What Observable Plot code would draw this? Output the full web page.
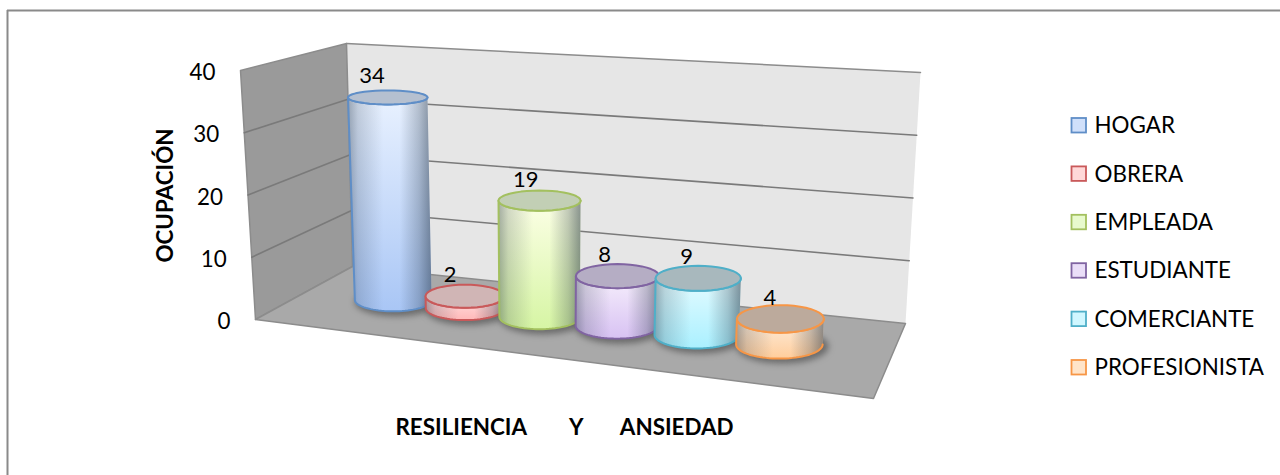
<!DOCTYPE html>
<html><head><meta charset="utf-8">
<script src="https://cdn.jsdelivr.net/npm/d3@7"></script>
<script src="https://cdn.jsdelivr.net/npm/@observablehq/plot@0.6"></script>
<style>html,body{margin:0;padding:0;background:#fff}svg{display:block}</style>
</head><body><div id="chart"></div>
<script>
const categories = ["HOGAR","OBRERA","EMPLEADA","ESTUDIANTE","COMERCIANTE","PROFESIONISTA"];
const values = [34,2,19,8,9,4];
const ticks = [0,10,20,30,40];
const strokes = ["#5f8ec7","#c9595a","#a3c05f","#8064a2","#4fafc8","#f79646"];
const topFills = ["#b5c0d0","#d0b5b5","#c2cfb5","#b5adc4","#a8b8bd","#bcaa9c"];
const lightFills = ["#e8f1ff","#ffe3e3","#fcffe6","#f6effc","#e4fbff","#fdeede"];
const deepFills = ["#a9c6f5","#ffb8b8","#d6f5a4","#d8c2f3","#aaf0ff","#ffcd9c"];
const FONT = "Lato, 'Open Sans', sans-serif";

// chart box corners in pixel space: [x,y] for (u,v,d)
const C = {
  lb0:[352,266], rb0:[905,323], lf0:[255,319], rf0:[873,398],
  lb1:[346,43],  rb1:[920,72],  lf1:[240,70],  rf1:[888,127]
};
const mix = (a,b,t)=>[a[0]+(b[0]-a[0])*t, a[1]+(b[1]-a[1])*t];
function project(u,v,d){
  const t=v/40;
  const bot=mix(mix(C.lb0,C.rb0,u),mix(C.lf0,C.rf0,u),d);
  const top=mix(mix(C.lb1,C.rb1,u),mix(C.lf1,C.rf1,u),d);
  return mix(bot,top,t);
}
const pt=(u,v,d)=>{const p=project(u,v,d);return {x:p[0],y:p[1]};};
// category position across the floor, with a perspective warp
const uOf=i=>{const s=(i+1.1)/7.5;return s-.13*s*(1-s)+.0145;};
const D0=.45, RU=.064, RD=.2;

function ellipseParts(u,v){
  const c=project(u,v,D0);
  const rx=RU*(project(1,v,D0)[0]-project(0,v,D0)[0])*(1+.2*u);
  const ry=RD*(project(u,v,1)[1]-project(u,v,0)[1]);
  return {c,rx,ry};
}
function arc(e,a0,a1,n=40){
  return d3.range(n+1).map(k=>{
    const a=a0+(a1-a0)*k/n;
    return {x:e.c[0]+e.rx*Math.cos(a),y:e.c[1]+e.ry*Math.sin(a)};
  });
}
const poly=(pts,o)=>Plot.line(pts,{x:"x",y:"y",z:null,...o});

function gradients(){
  const defs=d3.create("svg:defs");
  categories.forEach((_,i)=>{
    const g=defs.append("linearGradient").attr("id","v"+i).attr("x1",0).attr("x2",0).attr("y1",0).attr("y2",1);
    g.append("stop").attr("offset",0).attr("stop-color",lightFills[i]);
    g.append("stop").attr("offset",1).attr("stop-color",deepFills[i]);
  });
  const s=defs.append("linearGradient").attr("id","shade");
  [[0,.38],[.12,.18],[.42,0],[.62,0],[.85,.25],[1,.5]].forEach(([o,a])=>
    s.append("stop").attr("offset",o).attr("stop-color","#1a2a3a").attr("stop-opacity",a));
  return defs.node();
}

const wallStroke="#8c8c8c";
const marks=[
  gradients,
  Plot.ruleX([7],{y1:10,y2:475,stroke:"#8a8a8a",strokeWidth:2}),
  Plot.ruleY([10],{x1:7,x2:1280,stroke:"#8a8a8a",strokeWidth:2}),
  poly([pt(0,0,0),pt(1,0,0),pt(1,40,0),pt(0,40,0),pt(0,0,0)],{fill:"#e6e6e6",stroke:"none"}),
  poly([pt(0,40,0),pt(1,40,0)],{stroke:wallStroke,strokeWidth:1.5}),
  poly([pt(0,0,0),pt(0,0,1),pt(0,40,1),pt(0,40,0),pt(0,0,0)],{fill:"#9a9a9a",stroke:wallStroke}),
  poly([pt(0,0,0),pt(1,0,0),pt(1,0,1),pt(0,0,1),pt(0,0,0)],{fill:"#a9a9a9",stroke:wallStroke}),
  ...ticks.slice(1,-1).flatMap(t=>[
    poly([pt(0,t,1),pt(0,t,0),pt(1,t,0)],{stroke:"#7a7a7a",strokeWidth:1.6})
  ]),
  Plot.text(ticks,{x:t=>project(0,t,1)[0]-25,y:t=>project(0,t,1)[1]+2.5,text:d=>String(d),
    fontSize:22.4,fontFamily:FONT,fill:"#000",textAnchor:"end"})
];
categories.forEach((_,i)=>{
  const u=uOf(i), v=values[i];
  const b=ellipseParts(u,0), t=ellipseParts(u,v);
  const body=[...arc(b,0,Math.PI),...arc(t,Math.PI,0)];
  marks.push(
    poly([...arc({c:[b.c[0]+3,b.c[1]+2],rx:b.rx+3,ry:b.ry+3},0,2*Math.PI)],{fill:"#555",fillOpacity:.75,stroke:"none",imageFilter:"blur(3px)"}),
    poly(body,{fill:`url(#v${i})`,stroke:"none"}),
    poly(body,{fill:"url(#shade)",stroke:strokes[i],strokeWidth:2}),
    poly(arc(t,0,2*Math.PI),{fill:topFills[i],stroke:strokes[i],strokeWidth:2})
  );
});
marks.push(
  Plot.text(values,{x:(d,i)=>ellipseParts(uOf(i),d).c[0]-17+8*uOf(i),y:(d,i)=>ellipseParts(uOf(i),d).c[1]-21,
    text:d=>String(d),fontSize:22,fontFamily:FONT,fill:"#000",textAnchor:"middle"}),
  Plot.rect(categories,{x1:()=>1071.5,x2:()=>1086,y1:(d,i)=>118+i*48.4,y2:(d,i)=>132.5+i*48.4,
    fill:(d,i)=>deepFills[i],fillOpacity:.55,stroke:(d,i)=>strokes[i],strokeWidth:1.8}),
  Plot.text(categories,{x:()=>1094,y:(d,i)=>125.5+i*48.4,text:d=>d,textAnchor:"start",
    fontSize:22.4,fontFamily:FONT,fill:"#000"}),
  Plot.text(["OCUPACIÓN"],{x:()=>165,y:()=>195,text:d=>d,rotate:-90,fontWeight:"bold",
    fontSize:22.4,fontFamily:FONT,fill:"#000"}),
  Plot.text(["RESILIENCIA        Y       ANSIEDAD"],{x:()=>564,y:()=>427,text:d=>d,fontWeight:"bold",
    fontSize:22.4,fontFamily:FONT,fill:"#000"})
);
const chart=Plot.plot({
  width:1280,height:475,margin:0,
  x:{type:"linear",domain:[0,1280],range:[0,1280],axis:null},
  y:{type:"linear",domain:[0,475],range:[0,475],axis:null},
  color:{type:"identity"},
  marks
});
document.getElementById("chart").append(chart);
</script></body></html>
